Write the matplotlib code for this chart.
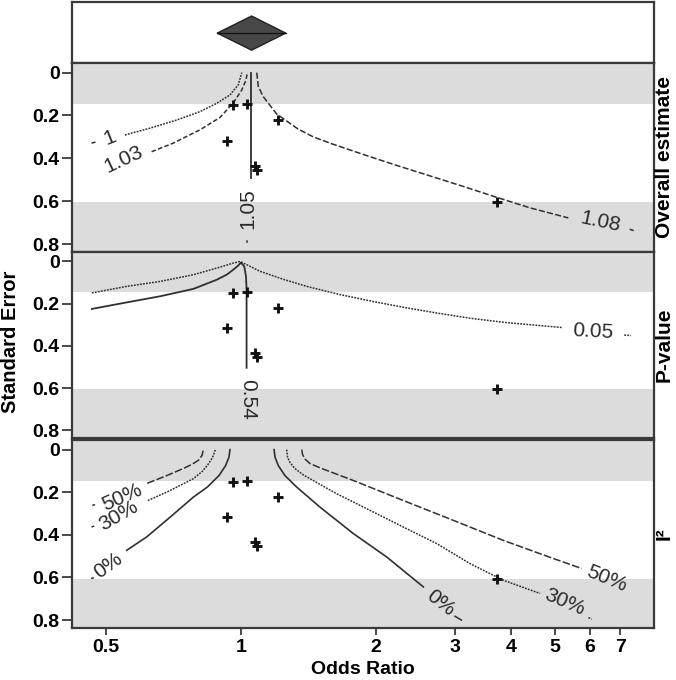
import matplotlib
matplotlib.use("Agg")
import matplotlib.pyplot as plt
import numpy as np

plt.rcParams['font.family'] = ['Liberation Sans', 'DejaVu Sans']

# ---------------- data ----------------
study_or = [0.961, 1.03, 1.211, 0.932, 1.075, 1.087, 3.716]
study_se = [0.151, 0.146, 0.221, 0.317, 0.434, 0.454, 0.605]

pooled_low, pooled_est, pooled_high = 0.885, 1.056, 1.258

# Panel 1: overall estimate contours
c1_or = [0.551, 0.627, 0.719, 0.810, 0.883, 0.945, 0.986, 1.004]
c1_se = [0.291, 0.259, 0.221, 0.182, 0.143, 0.104, 0.057, 0.0]
c103_or = [0.632, 0.706, 0.810, 0.898, 0.961, 1.004, 1.026, 1.033]
c103_se = [0.369, 0.329, 0.267, 0.209, 0.141, 0.081, 0.034, 0.0]
c105_or = [1.053, 1.053]
c105_se = [0.0, 0.493]
c108_or = [1.084, 1.093, 1.121, 1.201, 1.340, 1.450, 1.579, 1.874, 2.224, 2.639, 3.130, 3.716, 4.409, 5.367]
c108_se = [0.0, 0.065, 0.112, 0.193, 0.263, 0.300, 0.329, 0.382, 0.433, 0.482, 0.531, 0.582, 0.631, 0.678]

# Panel 2: p-value contours
p05_or = [0.465, 0.556, 0.660, 0.783, 0.883, 0.961, 0.995, 1.047, 1.102, 1.241, 1.401,
          1.662, 1.972, 2.341, 2.778, 3.295, 3.911, 5.188]
p05_se = [0.149, 0.118, 0.0945, 0.0629, 0.0312, 0.0076, 0.0, 0.0227, 0.0463, 0.0841, 0.118,
          0.157, 0.190, 0.220, 0.247, 0.271, 0.290, 0.313]
p54_or = [0.465, 0.556, 0.660, 0.783, 0.883, 0.930, 0.961, 0.985, 1.000, 1.017, 1.026, 1.029, 1.029]
p54_se = [0.225, 0.194, 0.165, 0.130, 0.0865, 0.062, 0.039, 0.020, 0.005, 0.024, 0.071, 0.134, 0.504]

# Panel 3: I^2 contours
i0L_or = [0.556, 0.616, 0.695, 0.783, 0.841, 0.893, 0.924, 0.940, 0.945]
i0L_se = [0.4725, 0.410, 0.317, 0.223, 0.176, 0.122, 0.075, 0.036, 0.0]
i30L_or = [0.620, 0.695, 0.782, 0.819, 0.844, 0.864, 0.877]
i30L_se = [0.239, 0.192, 0.137, 0.103, 0.0702, 0.037, 0.0]
i50L_or = [0.618, 0.683, 0.746, 0.778, 0.804, 0.819, 0.824]
i50L_se = [0.158, 0.122, 0.0875, 0.0688, 0.0501, 0.0267, 0.0]
i0R_or = [1.185, 1.191, 1.211, 1.253, 1.331, 1.500, 1.780, 2.113, 2.549]
i0R_se = [0.0, 0.036, 0.075, 0.122, 0.176, 0.270, 0.394, 0.504, 0.644]
i30R_or = [1.264, 1.270, 1.286, 1.319, 1.377, 1.634, 1.939, 2.301, 2.731, 3.240, 3.844, 4.641]
i30R_se = [0.0, 0.036, 0.061, 0.089, 0.119, 0.207, 0.285, 0.3635, 0.441, 0.535, 0.613, 0.675]
i50R_or = [1.366, 1.371, 1.389, 1.425, 1.500, 1.780, 2.301, 2.974, 3.844, 4.969, 5.749]
i50R_se = [0.0, 0.022, 0.0445, 0.0655, 0.0856, 0.145, 0.239, 0.332, 0.426, 0.511, 0.558]

x_ticks = [0.5, 1, 2, 3, 4, 5, 6, 7]
x_ticklabels = ["0.5", "1", "2", "3", "4", "5", "6", "7"]
y_ticks = [0, 0.2, 0.4, 0.6, 0.8]
y_ticklabels = ["0", "0.2", "0.4", "0.6", "0.8"]
strip_labels = ["Overall estimate", "P-value", "I²"]

# ---------------- layout ----------------
W, H = 676, 680
fig = plt.figure(figsize=(W / 100, H / 100), dpi=100)

def frac(l, t, r, b):
    return [l / W, 1 - b / H, (r - l) / W, (b - t) / H]

ax_top = fig.add_axes(frac(72, 2, 654, 63))
ax1 = fig.add_axes(frac(72, 63, 654, 252))
ax2 = fig.add_axes(frac(72, 252, 654, 438))
ax3 = fig.add_axes(frac(72, 440, 654, 628))
panels = [ax1, ax2, ax3]

XLIM = (0.42, 8.33)
YLIM = (0.837, -0.045)
LINE = '#303030'
BAND = '#dcdcdc'
FRAME = '#3a3a3a'
TICK_FS = 14
DOT = (0, (1.2, 0.8))

for ax in [ax_top] + panels:
    ax.set_xscale('log')
    ax.set_xlim(*XLIM)
    for s in ax.spines.values():
        s.set_color(FRAME)
        s.set_linewidth(1.6)
    ax.minorticks_off()

# top panel with diamond
ax_top.set_ylim(0, 1)
ax_top.set_xticks([])
ax_top.set_yticks([])
ax_top.tick_params(which='both', bottom=False, left=False, labelbottom=False, labelleft=False)
dx = [pooled_low, pooled_est, pooled_high, pooled_est, pooled_low]
dy = [0.49, 0.77, 0.49, 0.21, 0.49]
ax_top.fill(dx, dy, facecolor='#474747', edgecolor='#222222', linewidth=1.0)
ax_top.plot([pooled_low, pooled_high], [0.49, 0.49], color='#111111', lw=0.9)

se_min, se_max = min(study_se), max(study_se)
for ax in panels:
    ax.set_ylim(*YLIM)
    ax.axhspan(-1, se_min, color=BAND, zorder=0, lw=0)
    ax.axhspan(se_max, 2, color=BAND, zorder=0, lw=0)
    ax.set_yticks(y_ticks)
    ax.set_yticklabels(y_ticklabels, fontsize=TICK_FS, fontweight='bold')
    ax.tick_params(axis='y', direction='out', length=7, width=1.3, color=FRAME, pad=2)
    ax.plot(study_or, study_se, linestyle='none', marker='+', ms=7.5, mew=2.1,
            color='#111111', zorder=5)
    ax.set_xticks(x_ticks)
    ax.minorticks_off()

for ax in [ax1, ax2]:
    ax.tick_params(axis='x', which='both', bottom=False, labelbottom=False)
ax3.set_xticklabels(x_ticklabels, fontsize=TICK_FS, fontweight='bold')
ax3.tick_params(axis='x', direction='out', length=5, width=1.3, color=FRAME, pad=3)

LW = 1.1
lab_kw = dict(fontsize=15, color='#2a2a2a', ha='center', va='center',
              rotation_mode='anchor', zorder=6)

# Panel 1
ax1.plot(c1_or, c1_se, color=LINE, lw=LW, ls=DOT)
ax1.plot(c103_or, c103_se, color=LINE, lw=LW, ls=(0, (3, 1.5)))
ax1.plot(c105_or, c105_se, color=LINE, lw=LW + 0.2, ls='-')
ax1.plot(c108_or, c108_se, color=LINE, lw=LW, ls=(0, (4, 1.5)))
ax1.text(0.510, 0.305, "1", rotation=22, **lab_kw)
ax1.plot([0.466, 0.472], [0.328, 0.325], color=LINE, lw=LW)
ax1.text(0.546, 0.407, "1.03", rotation=25, **lab_kw)
ax1.text(1.038, 0.633, "1.05", rotation=90, **lab_kw)
ax1.plot([1.03, 1.03], [0.786, 0.792], color=LINE, lw=LW)
ax1.text(6.315, 0.697, "1.08", rotation=-12, **lab_kw)
ax1.plot([7.38, 7.48], [0.732, 0.736], color=LINE, lw=LW)

# Panel 2
ax2.plot(p05_or, p05_se, color=LINE, lw=LW, ls=DOT)
ax2.plot(p54_or, p54_se, color=LINE, lw=LW + 0.2, ls='-')
ax2.text(6.10, 0.333, "0.05", rotation=-3, **lab_kw)
ax2.plot([7.15, 7.40], [0.349, 0.351], color=LINE, lw=LW, ls=DOT)
ax2.text(1.032, 0.654, "0.54", rotation=270, **lab_kw)

# Panel 3
ax3.plot(i0L_or, i0L_se, color=LINE, lw=LW + 0.1, ls='-')
ax3.plot(i30L_or, i30L_se, color=LINE, lw=LW, ls=DOT)
ax3.plot(i50L_or, i50L_se, color=LINE, lw=LW, ls=(0, (5, 1.5)))
ax3.plot(i0R_or, i0R_se, color=LINE, lw=LW + 0.1, ls='-')
ax3.plot(i30R_or, i30R_se, color=LINE, lw=LW, ls=DOT)
ax3.plot(i50R_or, i50R_se, color=LINE, lw=LW, ls=(0, (5, 1.5)))
ax3.text(0.542, 0.223, "50%", rotation=24, **lab_kw)
ax3.text(0.533, 0.309, "30%", rotation=30, **lab_kw)
ax3.text(0.506, 0.543, "0%", rotation=36, **lab_kw)
ax3.plot([0.468, 0.471], [0.261, 0.259], color=LINE, lw=LW)
ax3.plot([0.466, 0.469], [0.362, 0.360], color=LINE, lw=LW)
ax3.plot([0.465, 0.468], [0.604, 0.602], color=LINE, lw=LW)
ax3.text(2.778, 0.718, "0%", rotation=-38, **lab_kw)
ax3.plot([3.00, 3.10], [0.782, 0.800], color=LINE, lw=LW)
ax3.text(5.277, 0.714, "30%", rotation=-23, **lab_kw)
ax3.plot([5.95, 6.05], [0.788, 0.795], color=LINE, lw=LW, ls=DOT)
ax3.text(6.536, 0.605, "50%", rotation=-22, **lab_kw)

# strip labels
for ax, lab in zip(panels, strip_labels):
    pos = ax.get_position()
    fig.text(664 / W, pos.y0 + pos.height / 2, lab, rotation=90, ha='center', va='center',
             fontsize=15, fontweight='bold')

fig.text(10.5 / W, 1 - 342 / H, "Standard Error", rotation=90, ha='center', va='center',
         fontsize=14.5, fontweight='bold')
fig.text(363 / W, 1 - 669 / H, "Odds Ratio", ha='center', va='center',
         fontsize=14, fontweight='bold')

fig.savefig("out.png", dpi=100)
